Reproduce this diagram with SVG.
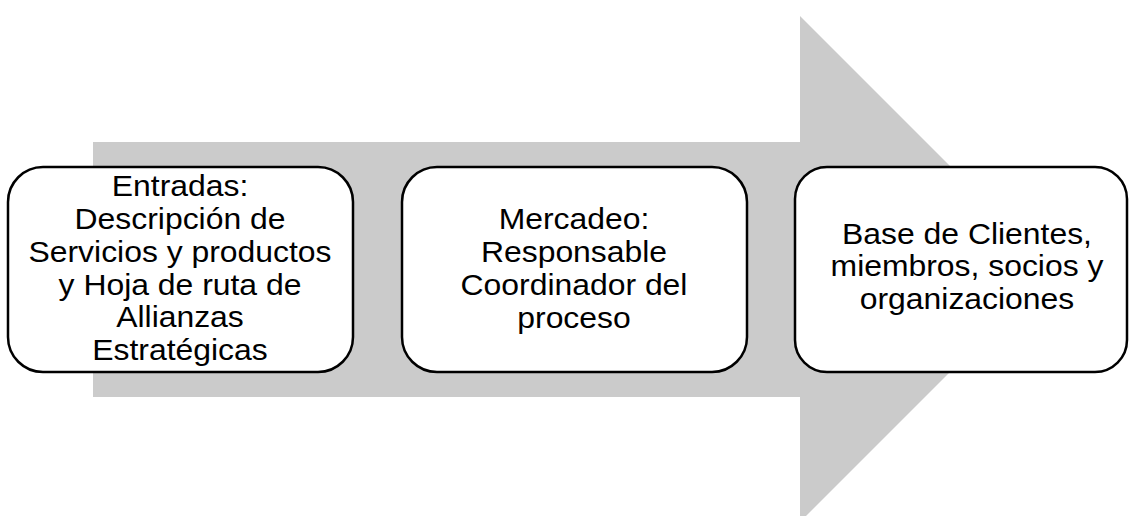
<svg xmlns="http://www.w3.org/2000/svg" width="1129" height="516" viewBox="0 0 1129 516">
<style>
.box{fill:#fff;stroke:#000;stroke-width:2.5}
.t{font-family:"Liberation Sans",Arial,sans-serif;font-size:29px;fill:#000;text-anchor:middle}
</style>
<rect width="1129" height="516" fill="#fff"/>
<g id="arrow">
<polygon points="93,142 800,142 800,16 1053,269 800,522 800,397 93,397" fill="#cbcbcb"/>
</g>
<g id="connectors"></g>
<g id="node1">
<rect class="box" x="8" y="167" width="345" height="205" rx="35" ry="35"/>
<g transform="translate(180 0) scale(1.1 1)">
<text class="t" x="0" y="196.5">Entradas:</text>
<text class="t" x="0" y="229.2">Descripción de</text>
<text class="t" x="0" y="261.9">Servicios y productos</text>
<text class="t" x="0" y="294.6">y Hoja de ruta de</text>
<text class="t" x="0" y="327.3">Allianzas</text>
<text class="t" x="0" y="360">Estratégicas</text>
</g>
</g>
<g id="node2">
<rect class="box" x="402" y="167" width="345" height="205" rx="35" ry="35"/>
<g transform="translate(574 0) scale(1.1 1)">
<text class="t" x="0" y="229.5">Mercadeo:</text>
<text class="t" x="0" y="262.2">Responsable</text>
<text class="t" x="0" y="294.9">Coordinador del</text>
<text class="t" x="0" y="327.6">proceso</text>
</g>
</g>
<g id="node3">
<rect class="box" x="795" y="167" width="332" height="205" rx="32" ry="32"/>
<g transform="translate(967 0) scale(1.1 1)">
<text class="t" x="0" y="244">Base de Clientes,</text>
<text class="t" x="0" y="276.5">miembros, socios y</text>
<text class="t" x="0" y="309">organizaciones</text>
</g>
</g>
</svg>
